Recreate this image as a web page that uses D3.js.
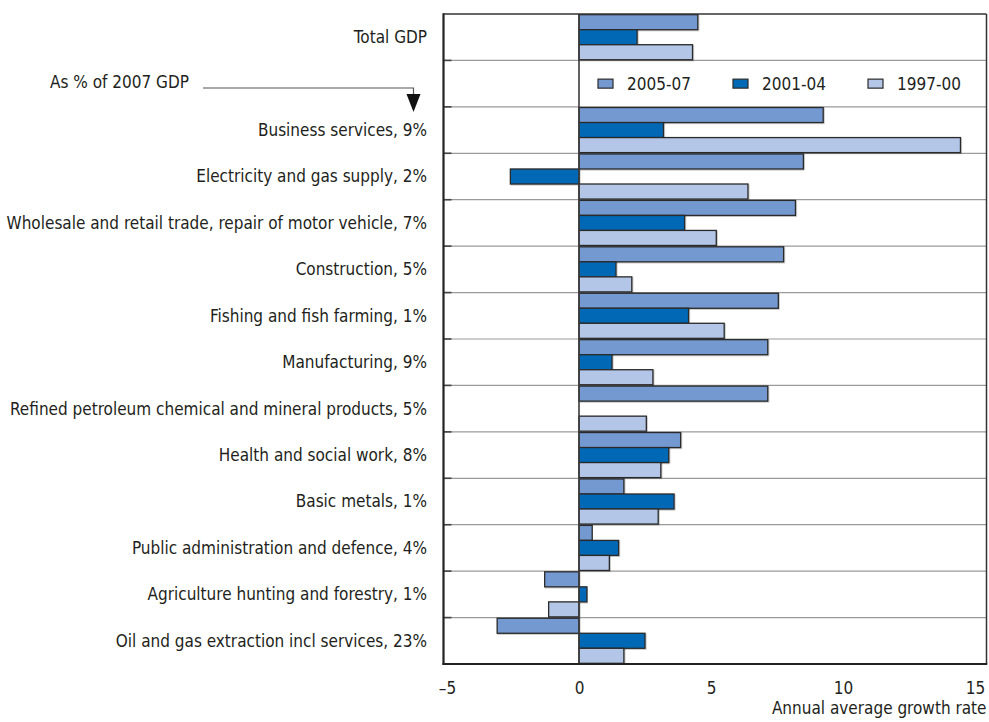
<!DOCTYPE html>
<html>
<head>
<meta charset="utf-8">
<script src="https://cdn.jsdelivr.net/npm/d3@7/dist/d3.min.js"></script>
<style>
  html, body { margin: 0; padding: 0; background: #fff; }
  svg text { font-family: "Liberation Sans Narrow", "DejaVu Sans Condensed", "Roboto", sans-serif; font-stretch: condensed; fill: #231f20; }
</style>
</head>
<body>
<svg id="chart" width="989" height="722"></svg>
<script>
// Sector labels, top to bottom (the empty row holds the legend)
const categories = [
  "Total GDP",
  "",
  "Business services, 9%",
  "Electricity and gas supply, 2%",
  "Wholesale and retail trade, repair of motor vehicle, 7%",
  "Construction, 5%",
  "Fishing and fish farming, 1%",
  "Manufacturing, 9%",
  "Refined petroleum chemical and mineral products, 5%",
  "Health and social work, 8%",
  "Basic metals, 1%",
  "Public administration and defence, 4%",
  "Agriculture hunting and forestry, 1%",
  "Oil and gas extraction incl services, 23%"
];

const seriesNames = ["2005-07", "2001-04", "1997-00"];

// Annual average growth rate, % (null = no bar)
const growth2005_07 = [4.5, null, 9.25, 8.5, 8.2, 7.75, 7.55, 7.15, 7.15, 3.85, 1.7, 0.5, -1.3, -3.1];
const growth2001_04 = [2.2, null, 3.2, -2.6, 4.0, 1.4, 4.15, 1.25, 0.0, 3.4, 3.6, 1.5, 0.3, 2.5];
const growth1997_00 = [4.3, null, 14.45, 6.4, 5.2, 2.0, 5.5, 2.8, 2.55, 3.1, 3.0, 1.15, -1.15, 1.7];

const xTicks = [-5, 0, 5, 10, 15];
const xTickLabels = ["\u20135", "0", "5", "10", "15"];
const axisTitle = "Annual average growth rate";
const noteText = "As % of 2007 GDP";

const colors = ["#7399d0", "#0068b4", "#b3c6e7"];

const seriesValues = [growth2005_07, growth2001_04, growth1997_00];

const FS = 17;

const svg = d3.select("#chart");

const frame = { left: 443.5, right: 986.5, top: 14, bottom: 664 };

const x = d3.scaleLinear().domain([-5, 15]).range([447, 975]);

const y = d3.scaleBand()
  .domain(d3.range(categories.length))
  .range([frame.top, frame.bottom])
  .paddingInner(0)
  .paddingOuter(0);

const ySub = d3.scaleBand()
  .domain(d3.range(seriesNames.length))
  .range([0, y.bandwidth()])
  .paddingOuter(0.045)
  .paddingInner(0);

// Shadow for bars
const defs = svg.append("defs");
const f = defs.append("filter").attr("id", "shadow").attr("x", "-5%").attr("y", "-20%").attr("width", "110%").attr("height", "150%");
f.append("feDropShadow").attr("dx", 0.8).attr("dy", 0.8).attr("stdDeviation", 0.6).attr("flood-color", "#000").attr("flood-opacity", 0.25);

// Horizontal row separators
const separators = d3.range(1, categories.length).map(i => y(i));
svg.append("g").selectAll("line.grid")
  .data(separators)
  .join("line")
  .attr("x1", frame.left).attr("x2", frame.right)
  .attr("y1", d => d).attr("y2", d => d)
  .attr("stroke", "#9a9a9a").attr("stroke-width", 1.2);

// Small inner ticks on the left border
svg.append("g").selectAll("line.tick")
  .data(separators)
  .join("line")
  .attr("x1", frame.left).attr("x2", frame.left + 8)
  .attr("y1", d => d).attr("y2", d => d)
  .attr("stroke", "#444").attr("stroke-width", 1.6);

// Bars
const rows = categories.map((c, i) => ({ i, vals: seriesValues.map(s => s[i]) }));
const rowG = svg.append("g").selectAll("g.row")
  .data(rows)
  .join("g")
  .attr("transform", d => `translate(0,${y(d.i)})`);

rowG.selectAll("rect")
  .data(d => d.vals.map((v, k) => ({ v, k })).filter(e => e.v !== null && e.v !== 0))
  .join("rect")
  .attr("x", d => x(Math.min(0, d.v)))
  .attr("width", d => Math.abs(x(d.v) - x(0)))
  .attr("y", d => ySub(d.k))
  .attr("height", ySub.bandwidth())
  .attr("fill", d => colors[d.k])
  .attr("stroke", "#2b2b2b")
  .attr("stroke-width", 1.3)
  .attr("filter", "url(#shadow)");

// Zero line
svg.append("line")
  .attr("x1", x(0)).attr("x2", x(0))
  .attr("y1", frame.top).attr("y2", frame.bottom)
  .attr("stroke", "#3a3a3a").attr("stroke-width", 1.6);

// Frame
svg.append("line").attr("x1", frame.left).attr("x2", frame.right).attr("y1", frame.top).attr("y2", frame.top)
  .attr("stroke", "#333").attr("stroke-width", 1.5);
svg.append("line").attr("x1", frame.right).attr("x2", frame.right).attr("y1", frame.top).attr("y2", frame.bottom)
  .attr("stroke", "#333").attr("stroke-width", 1.5);
svg.append("line").attr("x1", frame.left).attr("x2", frame.left).attr("y1", frame.top - 0.75).attr("y2", frame.bottom + 1)
  .attr("stroke", "#222").attr("stroke-width", 2.2);
svg.append("line").attr("x1", frame.left - 1).attr("x2", frame.right + 0.75).attr("y1", frame.bottom).attr("y2", frame.bottom)
  .attr("stroke", "#222").attr("stroke-width", 2.2);

// Category labels
svg.append("g").selectAll("text.cat")
  .data(categories)
  .join("text")
  .attr("x", 427)
  .attr("y", (d, i) => y(i) + y.bandwidth() / 2)
  .attr("dy", "0.35em")
  .attr("text-anchor", "end")
  .attr("font-size", FS)
  .text(d => d);

// X axis labels
const xAxis = d3.axisBottom(x)
  .tickValues(xTicks)
  .tickSize(0)
  .tickPadding(18)
  .tickFormat((d, i) => xTickLabels[i]);
const gx = svg.append("g").attr("transform", `translate(0,${frame.bottom})`).call(xAxis);
gx.select(".domain").remove();
gx.selectAll("text").attr("font-size", FS).attr("fill", "#231f20")
  .style("font-family", "'Liberation Sans Narrow', 'DejaVu Sans Condensed', Roboto, sans-serif");

svg.append("text")
  .attr("x", frame.right)
  .attr("y", 714)
  .attr("text-anchor", "end")
  .attr("font-size", FS)
  .text(axisTitle);

// Legend in the empty row
const legendY = y(1) + y.bandwidth() / 2;
const legendX = [598, 733, 868];
const lg = svg.append("g").selectAll("g.leg")
  .data(seriesNames)
  .join("g")
  .attr("transform", (d, i) => `translate(${legendX[i]},${legendY})`);
lg.append("rect")
  .attr("x", 0).attr("y", -4.5).attr("width", 15).attr("height", 9)
  .attr("fill", (d, i) => colors[i]).attr("stroke", "#2b2b2b").attr("stroke-width", 1.2);
lg.append("text")
  .attr("x", 29).attr("dy", "0.35em")
  .attr("font-size", FS)
  .text(d => d);

// Note with arrow pointing at the share figures
const noteY = 82;
svg.append("text")
  .attr("x", 50).attr("y", noteY).attr("dy", "0.35em")
  .attr("font-size", FS)
  .text(noteText);
svg.append("path")
  .attr("d", `M203,88 H413.5 V95`)
  .attr("fill", "none").attr("stroke", "#555").attr("stroke-width", 1.2);
svg.append("path")
  .attr("d", `M406.5,94 L420.5,94 L413.5,112 Z`)
  .attr("fill", "#111");
</script>
</body>
</html>
